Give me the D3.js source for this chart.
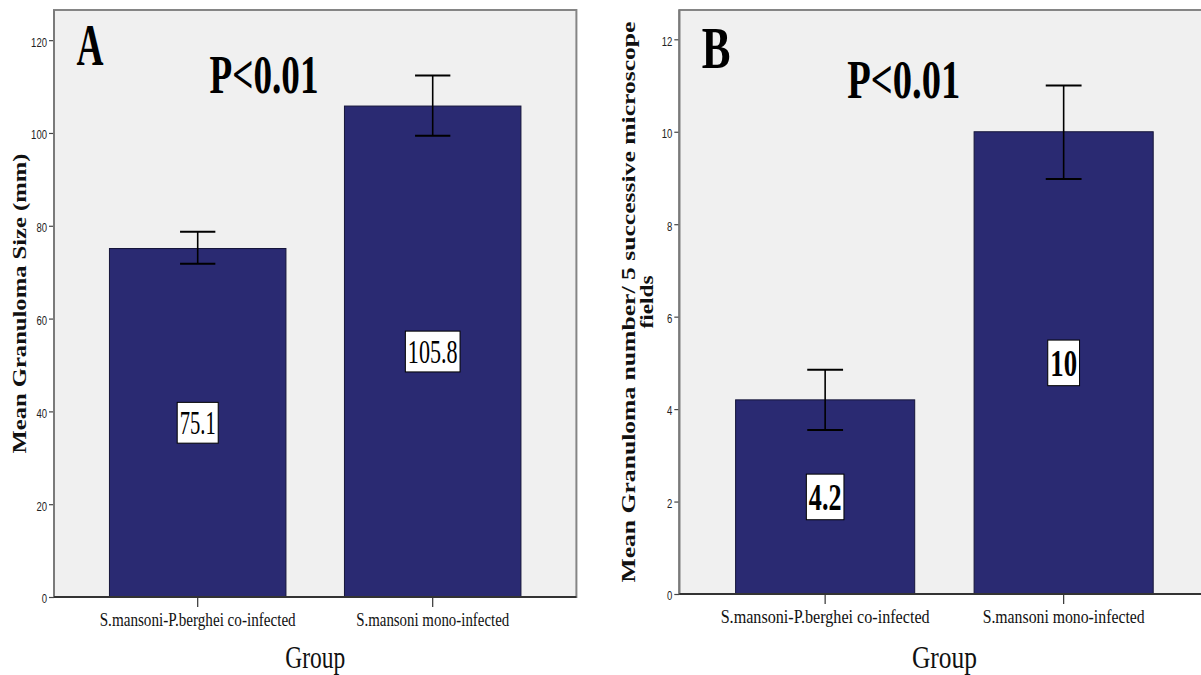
<!DOCTYPE html>
<html>
<head>
<meta charset="utf-8">
<script src="https://cdn.jsdelivr.net/npm/d3@7"></script>
<style>
  body { margin: 0; background: #fff; }
  svg { display: block; }
</style>
</head>
<body>
<svg id="chart"></svg>
<script>
const width = 1201;
const height = 675;

// data
const groups = ["S.mansoni-P.berghei co-infected", "S.mansoni mono-infected"];

const sizeMean = [75.1, 105.8];
const sizeLow = [71.8, 99.4];
const sizeHigh = [78.7, 112.4];
const sizeLabels = ["75.1", "105.8"];
const sizeTicks = [0, 20, 40, 60, 80, 100, 120];

const countMean = [4.2, 10];
const countLow = [3.55, 8.98];
const countHigh = [4.85, 11.0];
const countLabels = ["4.2", "10"];
const countTicks = [0, 2, 4, 6, 8, 10, 12];

const svg = d3.select("#chart")
  .attr("width", width)
  .attr("height", height);

const serif = "'Liberation Serif', 'Times New Roman', serif";
const sans = "'Liberation Sans', Arial, sans-serif";
const barColor = "#2a2a72";

/* ---------------------------
One panel
--------------------------- */

function drawPanel(p) {
  const g = svg.append("g");

  const x = d3.scaleBand()
    .domain(groups)
    .range([p.left, p.right])
    .paddingInner(0.249)
    .paddingOuter(0.236);

  const y = d3.scaleLinear()
    .domain([0, p.yMax])
    .range([p.bottom, p.top]);

  // plot frame
  g.append("rect")
    .attr("x", p.left)
    .attr("y", p.top)
    .attr("width", p.right - p.left)
    .attr("height", p.bottom - p.top)
    .attr("fill", "#f0f0f0")
    .attr("stroke", "#858585")
    .attr("stroke-width", 2);

  // bars
  g.selectAll(".bar")
    .data(p.mean)
    .enter()
    .append("rect")
    .attr("x", (d, i) => x(groups[i]))
    .attr("y", d => y(d))
    .attr("width", x.bandwidth())
    .attr("height", d => y(0) - y(d))
    .attr("fill", barColor)
    .attr("stroke", "#15153a")
    .attr("stroke-width", 1);

  // error bars
  const capW = x.bandwidth() * 0.2;
  p.mean.forEach((m, i) => {
    const cx = x(groups[i]) + x.bandwidth() / 2;
    g.append("line")
      .attr("x1", cx).attr("x2", cx)
      .attr("y1", y(p.low[i])).attr("y2", y(p.high[i]))
      .attr("stroke", "#000").attr("stroke-width", 1.6);
    [p.low[i], p.high[i]].forEach(v => {
      g.append("line")
        .attr("x1", cx - capW / 2).attr("x2", cx + capW / 2)
        .attr("y1", y(v)).attr("y2", y(v))
        .attr("stroke", "#000").attr("stroke-width", 2);
    });
  });

  // value labels in white boxes, at half bar height
  p.mean.forEach((m, i) => {
    const cx = x(groups[i]) + x.bandwidth() / 2;
    const cy = y(m / 2);
    const tw = p.labelWidths[i];
    const bh = p.labelSize * 1.2;
    g.append("rect")
      .attr("x", cx - (tw + 5) / 2)
      .attr("y", cy - bh / 2)
      .attr("width", tw + 5)
      .attr("height", bh)
      .attr("fill", "#fff")
      .attr("stroke", "#000")
      .attr("stroke-width", 1);
    g.append("text")
      .attr("x", cx)
      .attr("y", cy + p.labelSize * 0.34)
      .attr("text-anchor", "middle")
      .attr("font-family", serif)
      .attr("font-size", p.labelSize)
      .attr("font-weight", p.labelWeight)
      .attr("textLength", tw)
      .attr("lengthAdjust", "spacingAndGlyphs")
      .text(p.labels[i]);
  });

  // y axis
  const yAxis = g.append("g")
    .attr("transform", `translate(${p.left},0)`)
    .call(d3.axisLeft(y).tickValues(p.ticks).tickSize(5).tickPadding(2).tickFormat(d3.format("d")));
  yAxis.select(".domain").remove();
  yAxis.selectAll(".tick line").attr("stroke", "#444").attr("stroke-width", 1.2);
  yAxis.selectAll(".tick text")
    .attr("font-family", sans)
    .attr("font-size", 13)
    .attr("fill", "#222")
    .attr("dy", "0.45em")
    .attr("textLength", d => String(d).length * 5.3)
    .attr("lengthAdjust", "spacingAndGlyphs");

  g.append("line")
    .attr("x1", p.left).attr("x2", p.left)
    .attr("y1", p.top).attr("y2", p.bottom)
    .attr("stroke", "#7a7a7a").attr("stroke-width", 2);

  // x axis
  const xAxis = g.append("g")
    .attr("transform", `translate(0,${p.bottom})`)
    .call(d3.axisBottom(x).tickSize(10).tickPadding(0));
  xAxis.select(".domain").remove();
  xAxis.selectAll(".tick line").attr("stroke", "#333").attr("stroke-width", 1.2);
  xAxis.selectAll(".tick text").remove();

  g.append("line")
    .attr("x1", p.left).attr("x2", p.right)
    .attr("y1", p.bottom).attr("y2", p.bottom)
    .attr("stroke", "#333").attr("stroke-width", 2.2);

  groups.forEach((name, i) => {
    g.append("text")
      .attr("x", x(name) + x.bandwidth() / 2)
      .attr("y", p.bottom + 29)
      .attr("text-anchor", "middle")
      .attr("font-family", serif)
      .attr("font-size", 19)
      .attr("fill", "#111")
      .attr("textLength", p.catWidths[i])
      .attr("lengthAdjust", "spacingAndGlyphs")
      .text(name);
  });

  // axis titles
  g.append("text")
    .attr("x", (p.left + p.right) / 2)
    .attr("y", 668)
    .attr("text-anchor", "middle")
    .attr("font-family", serif)
    .attr("font-size", 31)
    .attr("fill", "#111")
    .attr("textLength", p.groupWidth)
    .attr("lengthAdjust", "spacingAndGlyphs")
    .text("Group");

  p.yTitle.forEach(line => {
    g.append("text")
      .attr("transform", `translate(${line.x},${(p.top + p.bottom) / 2}) rotate(-90)`)
      .attr("text-anchor", "middle")
      .attr("font-family", serif)
      .attr("font-size", 19)
      .attr("font-weight", "bold")
      .attr("fill", "#111")
      .attr("textLength", line.len)
      .attr("lengthAdjust", "spacingAndGlyphs")
      .text(line.text);
  });

  // panel letter and p-value
  g.append("text")
    .attr("x", p.left + 22.5)
    .attr("y", p.letterY)
    .attr("font-family", serif)
    .attr("font-size", 60)
    .attr("font-weight", "bold")
    .attr("textLength", p.letterWidth)
    .attr("lengthAdjust", "spacingAndGlyphs")
    .text(p.letter);

  g.append("text")
    .attr("x", p.left + p.pOffset)
    .attr("y", p.pY)
    .attr("text-anchor", "middle")
    .attr("font-family", serif)
    .attr("font-size", 54)
    .attr("font-weight", "bold")
    .attr("textLength", p.pWidth)
    .attr("lengthAdjust", "spacingAndGlyphs")
    .text("P<0.01");
}

/* ---------------------------
Panels
--------------------------- */

drawPanel({
  left: 54, right: 576.4, top: 10, bottom: 597, yMax: 126.5,
  mean: sizeMean, low: sizeLow, high: sizeHigh,
  labels: sizeLabels, labelWidths: [36, 49.7], labelSize: 34, labelWeight: "normal",
  ticks: sizeTicks,
  catWidths: [196, 153], groupWidth: 60,
  yTitle: [{ text: "Mean Granuloma Size (mm)", x: 25.5, len: 300 }],
  letter: "A", letterY: 65, letterWidth: 27,
  pOffset: 210, pY: 93, pWidth: 109
});

drawPanel({
  left: 679.3, right: 1209.5, top: 10, bottom: 594, yMax: 12.634,
  mean: countMean, low: countLow, high: countHigh,
  labels: countLabels, labelWidths: [32.6, 26.8], labelSize: 38, labelWeight: "bold",
  ticks: countTicks,
  catWidths: [209, 162], groupWidth: 65,
  yTitle: [
    { text: "Mean Granuloma number/ 5 successive microscope", x: 635, len: 561 },
    { text: "fields", x: 653, len: 53 }
  ],
  letter: "B", letterY: 68, letterWidth: 28.7,
  pOffset: 224.5, pY: 98, pWidth: 113
});
</script>
</body>
</html>
